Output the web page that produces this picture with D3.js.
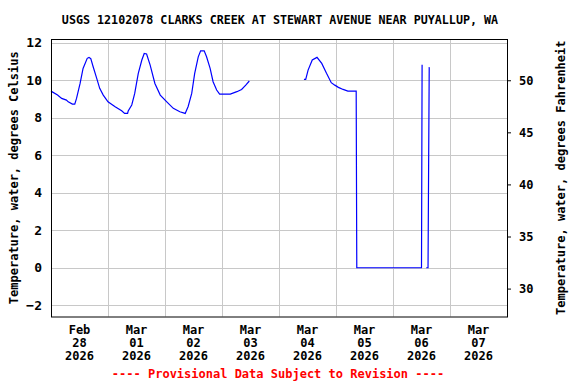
<!DOCTYPE html>
<html>
<head>
<meta charset="utf-8">
<script src="https://cdn.jsdelivr.net/npm/d3@7"></script>
<style>
  html, body { margin: 0; padding: 0; background: #fff; }
  svg text { font-family: "DejaVu Sans Mono", monospace; font-weight: bold; font-size: 12px; }
</style>
</head>
<body>
<div id="chart"></div>
<script>
// 读图得到的数据 (15分钟数据的近似取点, null = 缺测)
const times = [
  '2026-02-28 00:00', '2026-02-28 02:45', '2026-02-28 04:30', '2026-02-28 06:30', '2026-02-28 07:15',
  '2026-02-28 09:00', '2026-02-28 10:00', '2026-02-28 10:45', '2026-02-28 12:15', '2026-02-28 13:30',
  '2026-02-28 15:15', '2026-02-28 16:00', '2026-02-28 16:45', '2026-02-28 17:45', '2026-02-28 19:15',
  '2026-02-28 20:30', '2026-02-28 22:00', '2026-03-01 00:00', '2026-03-01 03:00', '2026-03-01 05:45',
  '2026-03-01 07:00', '2026-03-01 08:15', '2026-03-01 08:30', '2026-03-01 10:00', '2026-03-01 11:15',
  '2026-03-01 12:45', '2026-03-01 14:15', '2026-03-01 15:15', '2026-03-01 16:15', '2026-03-01 17:45',
  '2026-03-01 19:45', '2026-03-01 22:00', '2026-03-02 00:45', '2026-03-02 03:30', '2026-03-02 06:15',
  '2026-03-02 08:30', '2026-03-02 09:45', '2026-03-02 11:15', '2026-03-02 12:30', '2026-03-02 14:00',
  '2026-03-02 15:00', '2026-03-02 16:30', '2026-03-02 17:30', '2026-03-02 19:00', '2026-03-02 20:15',
  '2026-03-02 21:45', '2026-03-02 23:00', '2026-03-03 03:30', '2026-03-03 06:15', '2026-03-03 08:15',
  '2026-03-03 10:00', '2026-03-03 11:30', '2026-03-03 12:00',
  '2026-03-04 10:30', '2026-03-04 11:15', '2026-03-04 12:15', '2026-03-04 14:00', '2026-03-04 16:00',
  '2026-03-04 18:00', '2026-03-04 20:00', '2026-03-04 22:00', '2026-03-04 23:30', '2026-03-05 01:00',
  '2026-03-05 03:00', '2026-03-05 05:00', '2026-03-05 08:30', '2026-03-05 08:45', '2026-03-06 12:00',
  '2026-03-06 12:15', '2026-03-06 12:30', '2026-03-06 13:00',
  '2026-03-06 14:00', '2026-03-06 14:45', '2026-03-06 15:00', '2026-03-06 15:15'
]
const tempC = [
  9.42, 9.21, 9.03, 8.94, 8.85,
  8.73, 8.73, 9.03, 9.83, 10.63,
  11.17, 11.22, 11.15, 10.72, 10.10,
  9.57, 9.21, 8.85, 8.59, 8.37,
  8.23, 8.23, 8.36, 8.68, 9.30,
  10.37, 11.08, 11.43, 11.40, 10.81,
  9.83, 9.21, 8.85, 8.50, 8.32,
  8.23, 8.60, 9.30, 10.37, 11.25,
  11.57, 11.57, 11.25, 10.63, 9.92,
  9.48, 9.26, 9.26, 9.39, 9.51,
  9.74, 9.96, null,
  10.05, 10.05, 10.54, 11.08, 11.22,
  10.90, 10.37, 9.87, 9.74, 9.62,
  9.51, 9.42, 9.42, 0.0, 0.0,
  10.8, 10.8, null,
  0.0, 0.0, 5.47, 10.7
]
const xTickDays = ['2026-02-28', '2026-03-01', '2026-03-02', '2026-03-03',
  '2026-03-04', '2026-03-05', '2026-03-06', '2026-03-07']
const celsiusTicks = [-2, 0, 2, 4, 6, 8, 10, 12]
const fahrenheitTicks = [30, 35, 40, 45, 50]

const title = 'USGS 12102078 CLARKS CREEK AT STEWART AVENUE NEAR PUYALLUP, WA'
const footer = '---- Provisional Data Subject to Revision ----'

const width = 576
const height = 384
const plot = { left: 51, right: 507, top: 39, bottom: 316.5 }

const parseTime = d3.timeParse('%Y-%m-%d %H:%M')
const parseDay = d3.timeParse('%Y-%m-%d')
const data = times.map((t, i) => ({ date: parseTime(t), value: tempC[i] }))

const svg = d3.select('#chart').append('svg')
  .attr('width', width)
  .attr('height', height)

const x = d3.scaleTime()
  .domain([parseDay('2026-02-28'), parseDay('2026-03-08')])
  .range([plot.left, plot.right])
const y = d3.scaleLinear()
  .domain([-2.6, 12.2])
  .range([plot.bottom, plot.top])
const c2f = c => c * 9 / 5 + 32
const yF = d3.scaleLinear()
  .domain(y.domain().map(c2f))
  .range(y.range())

// 网格线
const midnights = d3.timeDay.range(parseDay('2026-03-01'), parseDay('2026-03-08'))
svg.append('g').selectAll('line').data(midnights).enter().append('line')
  .attr('x1', d => x(d) + 0.5).attr('x2', d => x(d) + 0.5)
  .attr('y1', plot.top).attr('y2', plot.bottom)
  .attr('stroke', '#c8c8c8')
svg.append('g').selectAll('line').data(celsiusTicks).enter().append('line')
  .attr('x1', plot.left).attr('x2', plot.right)
  .attr('y1', d => Math.round(y(d)) + 0.5).attr('y2', d => Math.round(y(d)) + 0.5)
  .attr('stroke', '#c8c8c8')

// 左轴 (摄氏)
const leftAxis = svg.append('g')
  .attr('transform', `translate(${plot.left},0)`)
  .call(d3.axisLeft(y).tickValues(celsiusTicks).tickSize(0).tickPadding(9)
    .tickFormat(d => d < 0 ? '\u2212' + Math.abs(d) : d))
leftAxis.select('.domain').remove()
leftAxis.selectAll('text').attr('fill', '#000').style('font-size', '13px')

// 右轴 (华氏)
const rightAxis = svg.append('g')
  .attr('transform', `translate(${plot.right},0)`)
  .call(d3.axisRight(yF).tickValues(fahrenheitTicks).tickSize(4).tickPadding(8))
rightAxis.select('.domain').remove()
rightAxis.selectAll('line').attr('stroke', '#000')
rightAxis.selectAll('text').attr('fill', '#000')

// x轴标签: 放在每天的正午
const noons = xTickDays.map(d => d3.timeHour.offset(parseDay(d), 12))
const fmts = [d3.timeFormat('%b'), d3.timeFormat('%d'), d3.timeFormat('%Y')]
const xLabels = svg.append('g').selectAll('text').data(noons).enter().append('text')
  .attr('text-anchor', 'middle')
  .attr('fill', '#000')
  .attr('x', d => x(d))
fmts.forEach((f, i) => {
  xLabels.append('tspan')
    .attr('x', d => x(d))
    .attr('y', 334 + i * 13)
    .text(d => f(d))
})

// 数据线
const line = d3.line()
  .defined(d => d.value !== null)
  .x(d => x(d.date))
  .y(d => y(d.value))
svg.append('path')
  .datum(data)
  .attr('fill', 'none')
  .attr('stroke', '#0000ff')
  .attr('stroke-width', 1.2)
  .attr('d', line)

// 边框
svg.append('rect')
  .attr('x', plot.left + 0.5).attr('y', plot.top + 0.5)
  .attr('width', plot.right - plot.left).attr('height', plot.bottom - plot.top)
  .attr('fill', 'none').attr('stroke', '#000')

// 标题与轴名
svg.append('text')
  .attr('x', 280).attr('y', 24)
  .attr('text-anchor', 'middle')
  .style('font-size', '11.7px')
  .text(title)
svg.append('text')
  .attr('transform', `translate(18,${(plot.top + plot.bottom) / 2}) rotate(-90)`)
  .attr('text-anchor', 'middle')
  .text('Temperature, water, degrees Celsius')
svg.append('text')
  .attr('transform', `translate(565,${(plot.top + plot.bottom) / 2}) rotate(-90)`)
  .attr('text-anchor', 'middle')
  .text('Temperature, water, degrees Fahrenheit')
svg.append('text')
  .attr('x', 278).attr('y', 378)
  .attr('text-anchor', 'middle')
  .attr('fill', '#ff0000')
  .text(footer)
</script>
</body>
</html>
